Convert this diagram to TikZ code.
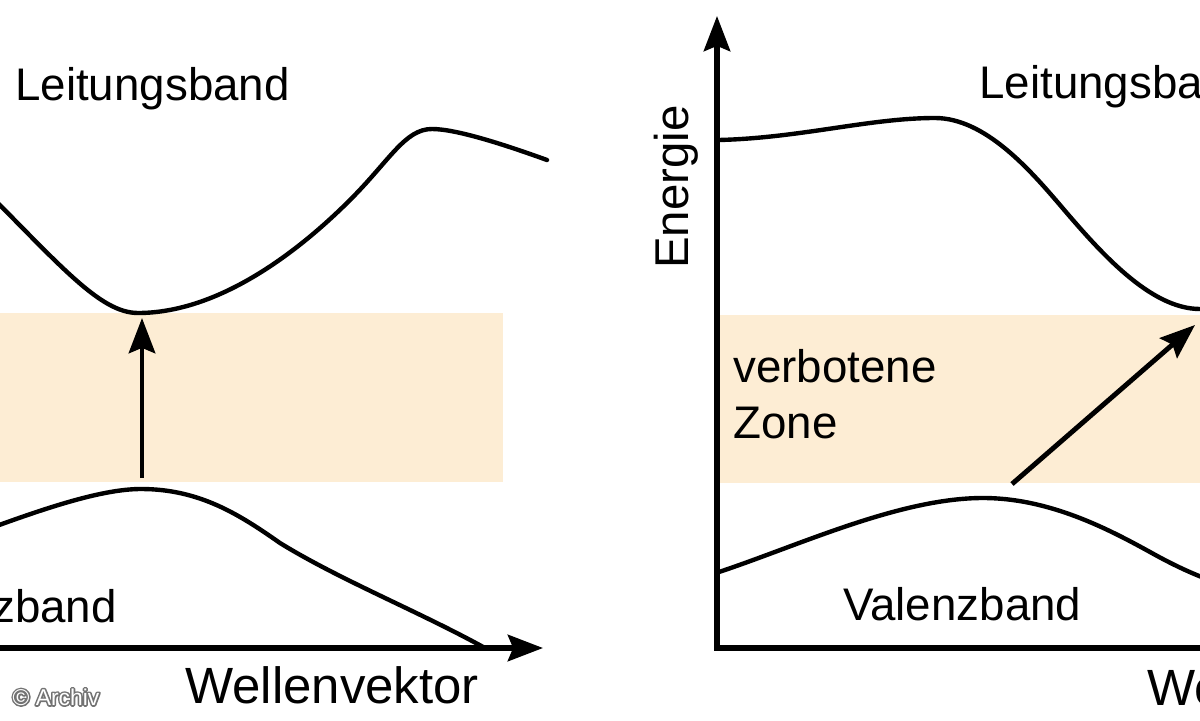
\documentclass[tikz,border=0pt]{standalone}
\usepackage{fontspec}
\setmainfont{Liberation Sans}
\usetikzlibrary{arrows.meta}
\definecolor{gapbeige}{RGB}{253,237,212}
\begin{document}
\begin{tikzpicture}[x=0.02cm,y=-0.02cm,
  band/.style={line width=2.5pt, line join=round, line cap=round},
  axisline/.style={line width=3pt, line join=miter, -{Stealth[length=20pt,width=15pt,inset=3pt]}},
  trans/.style={line width=2.8pt, -{Stealth[length=20pt,width=15pt,inset=3pt]}},
  lbl/.style={font=\fontsize{26}{31}\selectfont, inner sep=0pt},
  biglbl/.style={font=\fontsize{29}{34}\selectfont, inner sep=0pt},
  copyr/.style={font=\fontsize{13}{15}\selectfont, inner sep=0pt}]
\useasboundingbox (0,0) rectangle (1200,720);
\clip (0,0) rectangle (1200,720);
% forbidden zones
\fill[gapbeige] (-10,313) rectangle (503,482);
\fill[gapbeige] (720,315) rectangle (1210,483);
% axes
\coordinate (lx0) at (-10,648);
\coordinate (lx1) at (543,648);
\draw[axisline] (lx0) -- (lx1);
\coordinate (org) at (717,648);
\coordinate (ry1) at (717,16);
\coordinate (rx1) at (1260,648);
\draw[axisline] (rx1) -- (org) -- (ry1);
% left conduction band
\draw[band] (-20,185) .. controls (60,265) and (100,313) .. (138,313)
  .. controls (220,313) and (300,250) .. (350,200)
  .. controls (390,160) and (405,129) .. (432,129)
  .. controls (455,129) and (500,143) .. (547,160);
% left valence band
\draw[band] (-20,532) .. controls (40,510) and (100,489) .. (141,489)
  .. controls (200,489) and (240,515) .. (280,543)
  .. controls (340,580) and (420,612) .. (485,648);
% right conduction band
\draw[band] (719,140) .. controls (800,138) and (870,118) .. (935,118)
  .. controls (985,118) and (1030,170) .. (1060,205)
  .. controls (1100,252) and (1150,309) .. (1200,309) -- (1215,308);
% right valence band
\draw[band] (719,572) .. controls (800,545) and (900,498) .. (983,498)
  .. controls (1050,498) and (1110,530) .. (1150,552)
  .. controls (1175,566) and (1195,575) .. (1215,582);
% transitions
\coordinate (v1) at (142,478);
\coordinate (c1) at (142,318);
\draw[trans] (v1) -- (c1);
\coordinate (v2) at (1012,484);
\coordinate (c2) at (1195,325);
\draw[trans] (v2) -- (c2);
% labels
\node[lbl, anchor=base west] (lb1) at (15,100) {Leitungsband};
\node[lbl, anchor=base east] (vb1) at (117,622) {Valenzband};
\node[biglbl, anchor=base west] (wv1) at (185,703) {Wellenvektor};
\node[lbl, anchor=base west] (lb2) at (979,98) {Leitungsband};
\node[lbl, anchor=base west] (vz1) at (733,382) {verbotene};
\node[lbl, anchor=base west] (vz2) at (733,438) {Zone};
\node[lbl, anchor=base west] (vb2) at (843,620) {Valenzband};
\node[biglbl, anchor=base west] (wv2) at (1147,705) {Wellenvektor};
\node[font=\fontsize{27}{30}\selectfont, inner sep=0pt, rotate=90, anchor=base] (en) at (688,187) {Energie};
% copyright with outline glow
\node[copyr, text=black!55] (crs) at (56,697) {\special{pdf:literal direct 1 Tr 1.8 w 1 j}© Archiv\special{pdf:literal direct 0 Tr}};
\node[copyr, text=white] (cr) at (56,697) {© Archiv};
\end{tikzpicture}
\end{document}
